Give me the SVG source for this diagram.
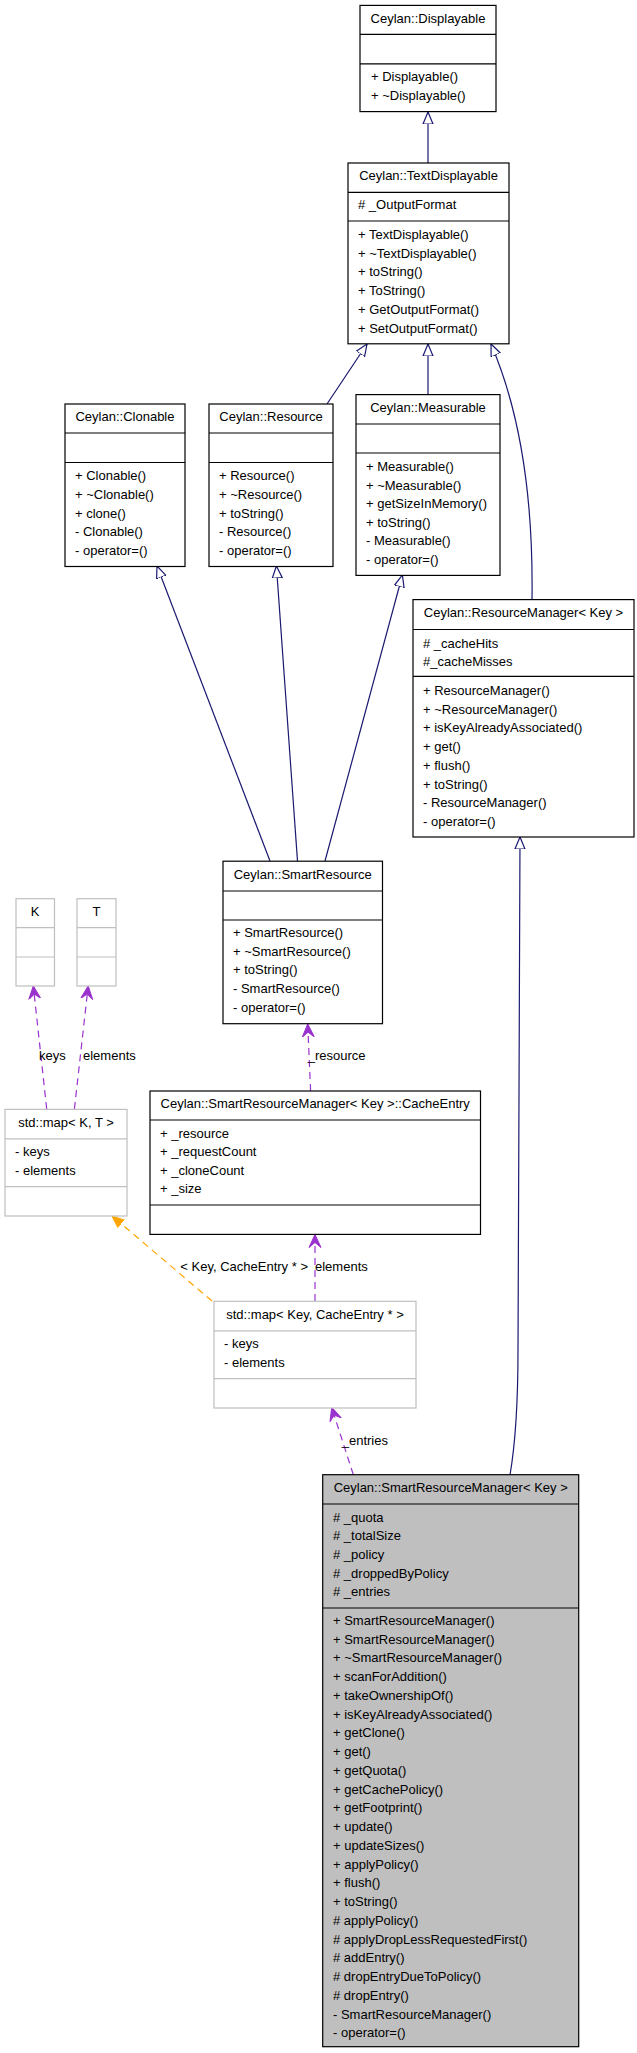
<svg xmlns="http://www.w3.org/2000/svg" width="637" height="2053" viewBox="0 0 637 2053">
<style>
text{font-family:"Liberation Sans",Arial,sans-serif;font-size:13px;fill:#000}
.t{text-anchor:middle}
.b{fill:#fff;stroke:#000;stroke-width:1.2}
.g{fill:#fff;stroke:#bfbfbf;stroke-width:1.2}
.s{fill:#bfbfbf;stroke:#000;stroke-width:1.2}
.lb{stroke:#000;stroke-width:1.2}
.lg{stroke:#bfbfbf;stroke-width:1.2}
.inh{fill:none;stroke:#191970;stroke-width:1.2}
.use{fill:none;stroke:#9a32cd;stroke-width:1.2;stroke-dasharray:7,5}
.tpl{fill:none;stroke:#ffa500;stroke-width:1.2;stroke-dasharray:7,5}
</style>
<defs>
<marker id="tri" viewBox="0 0 12 12" refX="12" refY="6" markerWidth="12" markerHeight="12" markerUnits="userSpaceOnUse" orient="auto"><path d="M0,1 L12,6 L0,11 Z" fill="#fff" stroke="#191970" stroke-width="1.2"/></marker>
<marker id="vee" viewBox="0 0 14 14" refX="13" refY="7" markerWidth="14" markerHeight="14" markerUnits="userSpaceOnUse" orient="auto"><path d="M0,1 L13,7 L0,13 L5,7 Z" fill="#9a32cd" stroke="#9a32cd" stroke-width="1"/></marker>
<marker id="otri" viewBox="0 0 12 12" refX="12" refY="6" markerWidth="12" markerHeight="12" markerUnits="userSpaceOnUse" orient="auto"><path d="M0,1 L12,6 L0,11 Z" fill="#ffa500" stroke="#ffa500"/></marker>
</defs>
<g id="connectors">
<path class="inh" d="M428,163 L428,112" marker-end="url(#tri)"/>
<path class="inh" d="M327,404 L367,344" marker-end="url(#tri)"/>
<path class="inh" d="M428,395 L428,344" marker-end="url(#tri)"/>
<path class="inh" d="M532,600 C533,530 528,430 491,344" marker-end="url(#tri)"/>
<path class="inh" d="M270,861 L157,566" marker-end="url(#tri)"/>
<path class="inh" d="M297.5,861 L276.4,566" marker-end="url(#tri)"/>
<path class="inh" d="M325,861 L402.4,575" marker-end="url(#tri)"/>
<path class="inh" d="M510,1475 C516,1440 518,1400 518,1350 L520,837" marker-end="url(#tri)"/>
<path class="use" d="M46.7,1109 L33.3,986" marker-end="url(#vee)"/>
<path class="use" d="M74.4,1109 L88.2,986" marker-end="url(#vee)"/>
<path class="use" d="M310.6,1091 L307.7,1024" marker-end="url(#vee)"/>
<path class="use" d="M315,1301 L315,1234.5" marker-end="url(#vee)"/>
<path class="tpl" d="M212,1301 L112,1216" marker-end="url(#otri)"/>
<path class="use" d="M353.3,1474.7 L331.7,1407.5" marker-end="url(#vee)"/>
<text x="39" y="1060">keys</text>
<text x="83" y="1060">elements</text>
<text x="307.7" y="1060">_resource</text>
<text x="315" y="1271">elements</text>
<text x="308" y="1271" text-anchor="end">&lt; Key, CacheEntry * &gt;</text>
<text x="341.7" y="1444.5">_entries</text>
</g>
<g id="Displayable">
<rect class="b" x="360" y="5.4" width="136" height="106.2"/>
<line class="lb" x1="360" y1="34.4" x2="496" y2="34.4"/><line class="lb" x1="360" y1="63.8" x2="496" y2="63.8"/>
<text class="t" x="428" y="23">Ceylan::Displayable</text>
<text x="371" y="81">+ Displayable()</text><text x="371" y="100">+ ~Displayable()</text>
</g>
<g id="TextDisplayable">
<rect class="b" x="348" y="163" width="161" height="180.8"/>
<line class="lb" x1="348" y1="192.4" x2="509" y2="192.4"/><line class="lb" x1="348" y1="221" x2="509" y2="221"/>
<text class="t" x="428.5" y="180">Ceylan::TextDisplayable</text>
<text x="358" y="209"># _OutputFormat</text>
<text x="358" y="239">+ TextDisplayable()<tspan x="358" dy="18.7">+ ~TextDisplayable()</tspan><tspan x="358" dy="18.7">+ toString()</tspan><tspan x="358" dy="18.7">+ ToString()</tspan><tspan x="358" dy="18.7">+ GetOutputFormat()</tspan><tspan x="358" dy="18.7">+ SetOutputFormat()</tspan></text>
</g>
<g id="Clonable">
<rect class="b" x="65" y="404" width="120" height="162.5"/>
<line class="lb" x1="65" y1="433" x2="185" y2="433"/><line class="lb" x1="65" y1="462.5" x2="185" y2="462.5"/>
<text class="t" x="125" y="421">Ceylan::Clonable</text>
<text x="75" y="480">+ Clonable()<tspan x="75" dy="18.75">+ ~Clonable()</tspan><tspan x="75" dy="18.75">+ clone()</tspan><tspan x="75" dy="18.75">- Clonable()</tspan><tspan x="75" dy="18.75">- operator=()</tspan></text>
</g>
<g id="Resource">
<rect class="b" x="209" y="404" width="124" height="162.5"/>
<line class="lb" x1="209" y1="433" x2="333" y2="433"/><line class="lb" x1="209" y1="462.5" x2="333" y2="462.5"/>
<text class="t" x="271" y="421">Ceylan::Resource</text>
<text x="219" y="480">+ Resource()<tspan x="219" dy="18.75">+ ~Resource()</tspan><tspan x="219" dy="18.75">+ toString()</tspan><tspan x="219" dy="18.75">- Resource()</tspan><tspan x="219" dy="18.75">- operator=()</tspan></text>
</g>
<g id="Measurable">
<rect class="b" x="356" y="394.6" width="144" height="180.8"/>
<line class="lb" x1="356" y1="424" x2="500" y2="424"/><line class="lb" x1="356" y1="453" x2="500" y2="453"/>
<text class="t" x="428" y="412">Ceylan::Measurable</text>
<text x="366" y="471">+ Measurable()<tspan x="366" dy="18.6">+ ~Measurable()</tspan><tspan x="366" dy="18.6">+ getSizeInMemory()</tspan><tspan x="366" dy="18.6">+ toString()</tspan><tspan x="366" dy="18.6">- Measurable()</tspan><tspan x="366" dy="18.6">- operator=()</tspan></text>
</g>
<g id="ResourceManager">
<rect class="b" x="413" y="599.6" width="221" height="237.4"/>
<line class="lb" x1="413" y1="629.5" x2="634" y2="629.5"/><line class="lb" x1="413" y1="676.3" x2="634" y2="676.3"/>
<text class="t" x="523.5" y="617">Ceylan::ResourceManager&lt; Key &gt;</text>
<text x="423" y="647.5"># _cacheHits<tspan x="423" dy="18">#_cacheMisses</tspan></text>
<text x="423" y="695">+ ResourceManager()<tspan x="423" dy="18.7">+ ~ResourceManager()</tspan><tspan x="423" dy="18.7">+ isKeyAlreadyAssociated()</tspan><tspan x="423" dy="18.7">+ get()</tspan><tspan x="423" dy="18.7">+ flush()</tspan><tspan x="423" dy="18.7">+ toString()</tspan><tspan x="423" dy="18.7">- ResourceManager()</tspan><tspan x="423" dy="18.7">- operator=()</tspan></text>
</g>
<g id="SmartResource">
<rect class="b" x="223" y="861.2" width="159.5" height="162.5"/>
<line class="lb" x1="223" y1="891" x2="382.5" y2="891"/><line class="lb" x1="223" y1="920" x2="382.5" y2="920"/>
<text class="t" x="302.7" y="879">Ceylan::SmartResource</text>
<text x="233" y="937">+ SmartResource()<tspan x="233" dy="18.7">+ ~SmartResource()</tspan><tspan x="233" dy="18.7">+ toString()</tspan><tspan x="233" dy="18.7">- SmartResource()</tspan><tspan x="233" dy="18.7">- operator=()</tspan></text>
</g>
<g id="K">
<rect class="g" x="16" y="898.7" width="38.5" height="87.3"/>
<line class="lg" x1="16" y1="927.7" x2="54.5" y2="927.7"/><line class="lg" x1="16" y1="957" x2="54.5" y2="957"/>
<text class="t" x="35" y="915.5">K</text>
</g>
<g id="T">
<rect class="g" x="77" y="898.7" width="39" height="87.3"/>
<line class="lg" x1="77" y1="927.7" x2="116" y2="927.7"/><line class="lg" x1="77" y1="957" x2="116" y2="957"/>
<text class="t" x="96.5" y="915.5">T</text>
</g>
<g id="mapKT">
<rect class="g" x="5" y="1109.4" width="122" height="106.6"/>
<line class="lg" x1="5" y1="1138.8" x2="127" y2="1138.8"/><line class="lg" x1="5" y1="1186.6" x2="127" y2="1186.6"/>
<text class="t" x="66" y="1126.5">std::map&lt; K, T &gt;</text>
<text x="15" y="1156">- keys<tspan x="15" dy="18.7">- elements</tspan></text>
</g>
<g id="CacheEntry">
<rect class="b" x="150" y="1091" width="330.5" height="143.4"/>
<line class="lb" x1="150" y1="1120" x2="480.5" y2="1120"/><line class="lb" x1="150" y1="1205" x2="480.5" y2="1205"/>
<text class="t" x="315.2" y="1108">Ceylan::SmartResourceManager&lt; Key &gt;::CacheEntry</text>
<text x="160" y="1137.5">+ _resource<tspan x="160" dy="18.6">+ _requestCount</tspan><tspan x="160" dy="18.6">+ _cloneCount</tspan><tspan x="160" dy="18.6">+ _size</tspan></text>
</g>
<g id="mapKeyCacheEntry">
<rect class="g" x="214" y="1301.3" width="202" height="106.7"/>
<line class="lg" x1="214" y1="1330.8" x2="416" y2="1330.8"/><line class="lg" x1="214" y1="1378.6" x2="416" y2="1378.6"/>
<text class="t" x="315" y="1319">std::map&lt; Key, CacheEntry * &gt;</text>
<text x="224" y="1348">- keys<tspan x="224" dy="18.7">- elements</tspan></text>
</g>
<g id="SmartResourceManager">
<rect class="s" x="322.7" y="1474.7" width="256" height="572"/>
<line class="lb" x1="322.7" y1="1504" x2="578.7" y2="1504"/><line class="lb" x1="322.7" y1="1608" x2="578.7" y2="1608"/>
<text class="t" x="450.7" y="1492">Ceylan::SmartResourceManager&lt; Key &gt;</text>
<text x="333" y="1521.5"># _quota<tspan x="333" dy="18.7"># _totalSize</tspan><tspan x="333" dy="18.7"># _policy</tspan><tspan x="333" dy="18.7"># _droppedByPolicy</tspan><tspan x="333" dy="18.7"># _entries</tspan></text>
<text x="333" y="1625">+ SmartResourceManager()<tspan x="333" dy="18.74">+ SmartResourceManager()</tspan><tspan x="333" dy="18.74">+ ~SmartResourceManager()</tspan><tspan x="333" dy="18.74">+ scanForAddition()</tspan><tspan x="333" dy="18.74">+ takeOwnershipOf()</tspan><tspan x="333" dy="18.74">+ isKeyAlreadyAssociated()</tspan><tspan x="333" dy="18.74">+ getClone()</tspan><tspan x="333" dy="18.74">+ get()</tspan><tspan x="333" dy="18.74">+ getQuota()</tspan><tspan x="333" dy="18.74">+ getCachePolicy()</tspan><tspan x="333" dy="18.74">+ getFootprint()</tspan><tspan x="333" dy="18.74">+ update()</tspan><tspan x="333" dy="18.74">+ updateSizes()</tspan><tspan x="333" dy="18.74">+ applyPolicy()</tspan><tspan x="333" dy="18.74">+ flush()</tspan><tspan x="333" dy="18.74">+ toString()</tspan><tspan x="333" dy="18.74"># applyPolicy()</tspan><tspan x="333" dy="18.74"># applyDropLessRequestedFirst()</tspan><tspan x="333" dy="18.74"># addEntry()</tspan><tspan x="333" dy="18.74"># dropEntryDueToPolicy()</tspan><tspan x="333" dy="18.74"># dropEntry()</tspan><tspan x="333" dy="18.74">- SmartResourceManager()</tspan><tspan x="333" dy="18.74">- operator=()</tspan></text>
</g>
</svg>
